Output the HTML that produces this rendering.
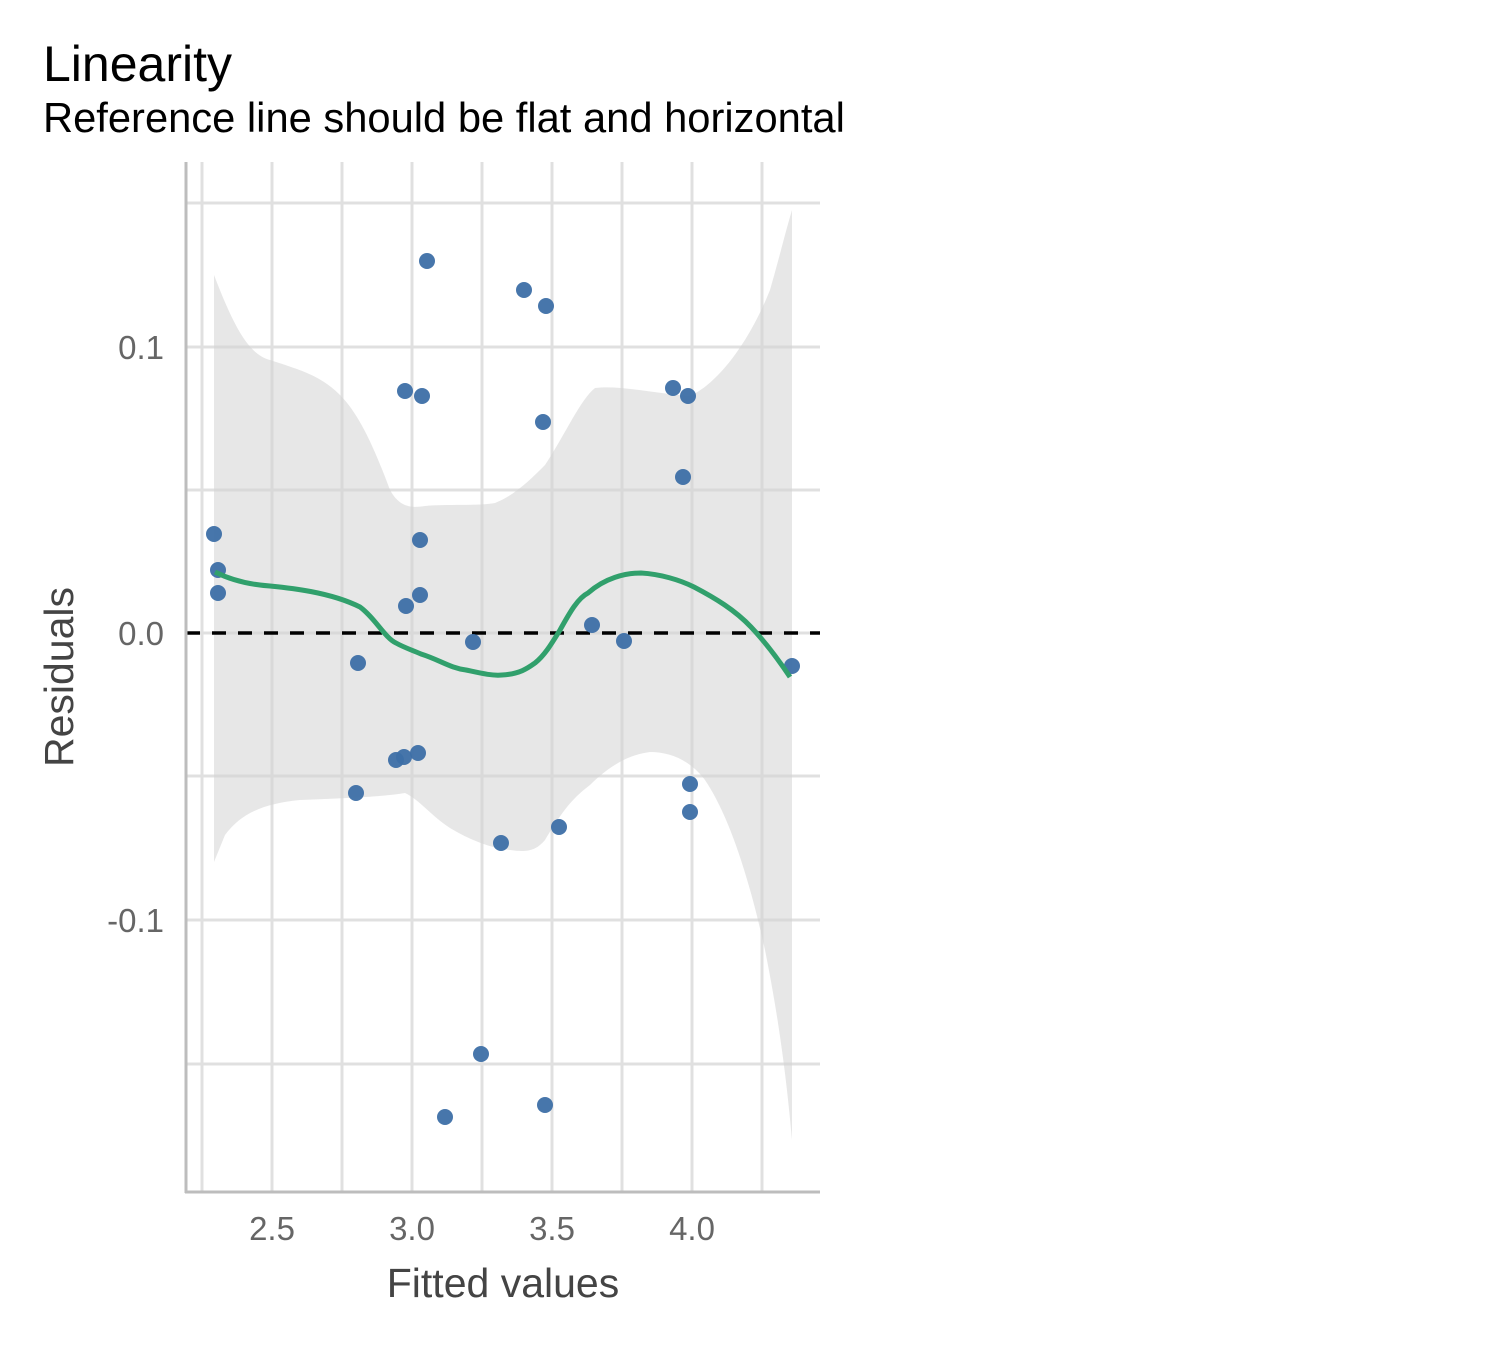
<!DOCTYPE html>
<html><head><meta charset="utf-8"><style>
html,body{margin:0;padding:0;background:#fff;}
svg{display:block;font-family:"Liberation Sans",Arial,sans-serif;}
</style></head><body>
<svg width="1500" height="1350" viewBox="0 0 1500 1350" xmlns="http://www.w3.org/2000/svg">
<rect width="1500" height="1350" fill="#fff"/>
<text x="43" y="81" font-size="50" fill="#000">Linearity</text>
<text x="43" y="132" font-size="41.7" fill="#000">Reference line should be flat and horizontal</text>
<g stroke="#e0e0e0" stroke-width="3">
<line x1="202" y1="162" x2="202" y2="1192"/><line x1="272" y1="162" x2="272" y2="1192"/>
<line x1="342" y1="162" x2="342" y2="1192"/><line x1="412" y1="162" x2="412" y2="1192"/>
<line x1="482" y1="162" x2="482" y2="1192"/><line x1="552" y1="162" x2="552" y2="1192"/>
<line x1="622" y1="162" x2="622" y2="1192"/><line x1="692" y1="162" x2="692" y2="1192"/>
<line x1="762" y1="162" x2="762" y2="1192"/>
<line x1="186" y1="203" x2="820" y2="203"/><line x1="186" y1="347" x2="820" y2="347"/>
<line x1="186" y1="490" x2="820" y2="490"/><line x1="186" y1="633" x2="820" y2="633"/>
<line x1="186" y1="776" x2="820" y2="776"/><line x1="186" y1="920" x2="820" y2="920"/>
<line x1="186" y1="1064" x2="820" y2="1064"/>
</g>
<path fill="#d3d3d3" fill-opacity="0.55" d="M214,275 C235,330 250,355 270,360 C300,370 320,375 340,395 C360,415 375,450 390,490 C400,508 412,508 425,506 C445,504 480,506 495,503 C515,495 530,480 545,465 C565,435 580,400 595,388 C620,385 650,393 690,396 C720,382 750,340 770,290 C780,255 786,230 792,210 L792,1140 C785,1060 775,1000 765,950 C745,860 725,810 705,780 C690,760 670,752 650,752 C625,755 605,770 590,785 C570,800 560,815 545,840 C535,852 525,852 510,850 C490,848 470,840 450,828 C430,815 420,800 405,793 C380,797 350,798 300,800 C260,804 240,815 225,835 L214,862 Z"/>
<line x1="186" y1="633" x2="820" y2="633" stroke="#000" stroke-width="3.5" stroke-dasharray="14,12"/>
<g fill="#3d6fa6" fill-opacity="0.95">
<circle cx="214" cy="534" r="8"/><circle cx="218" cy="570" r="8"/><circle cx="218" cy="593" r="8"/>
<circle cx="358" cy="663" r="8"/><circle cx="356" cy="793" r="8"/><circle cx="396" cy="760" r="8"/>
<circle cx="404" cy="757" r="8"/><circle cx="418" cy="753" r="8"/><circle cx="405" cy="391" r="8"/>
<circle cx="422" cy="396" r="8"/><circle cx="427" cy="261" r="8"/><circle cx="420" cy="540" r="8"/>
<circle cx="420" cy="595" r="8"/><circle cx="406" cy="606" r="8"/><circle cx="473" cy="642" r="8"/>
<circle cx="445" cy="1117" r="8"/><circle cx="481" cy="1054" r="8"/><circle cx="501" cy="843" r="8"/>
<circle cx="524" cy="290" r="8"/><circle cx="546" cy="306" r="8"/><circle cx="543" cy="422" r="8"/>
<circle cx="545" cy="1105" r="8"/><circle cx="559" cy="827" r="8"/><circle cx="592" cy="625" r="8"/>
<circle cx="624" cy="641" r="8"/><circle cx="673" cy="388" r="8"/><circle cx="688" cy="396" r="8"/>
<circle cx="683" cy="477" r="8"/><circle cx="690" cy="784" r="8"/><circle cx="690" cy="812" r="8"/>
<circle cx="792" cy="666" r="8"/>
</g>
<path fill="none" stroke="#31a06c" stroke-width="5" d="M215,572 C235,582 255,585 270,586 C290,588 330,592 360,607 C375,618 385,638 396,643 C405,648 412,650 421,654 C440,660 450,668 466,670 C480,673 492,676 502,675 C520,674 528,668 535,663 C545,655 552,643 560,630 C570,612 578,598 588,593 C605,578 625,573 641,573 C660,574 680,580 694,587 C715,598 735,610 751,627 C768,645 780,662 790,677"/>
<line x1="186" y1="162" x2="186" y2="1193" stroke="#bdbdbd" stroke-width="3"/>
<line x1="185" y1="1192" x2="820" y2="1192" stroke="#bdbdbd" stroke-width="3"/>
<g font-size="33" fill="#666" text-anchor="end">
<text x="164" y="359">0.1</text><text x="164" y="645">0.0</text><text x="164" y="932">-0.1</text>
</g>
<g font-size="33" fill="#666" text-anchor="middle">
<text x="272" y="1240">2.5</text><text x="412" y="1240">3.0</text><text x="552" y="1240">3.5</text><text x="692" y="1240">4.0</text>
</g>
<text x="503" y="1297" font-size="41" fill="#444" text-anchor="middle">Fitted values</text>
<text transform="translate(73,677) rotate(-90)" font-size="41" fill="#444" text-anchor="middle">Residuals</text>
</svg>
</body></html>
